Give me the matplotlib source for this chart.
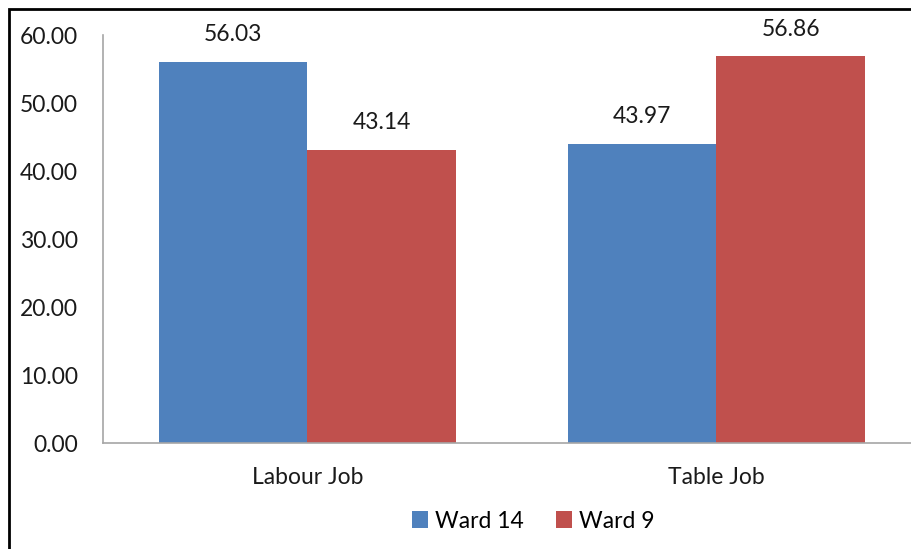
import numpy as np
import matplotlib.pyplot as plt
from matplotlib.patches import Rectangle

plt.rcParams['font.family'] = ['Lato', 'DejaVu Sans']

categories = ["Labour Job", "Table Job"]
series_names = ["Ward 14", "Ward 9"]
ward14 = [56.03, 43.97]
ward9 = [43.14, 56.86]
y_ticks = [0, 10, 20, 30, 40, 50, 60]

BLUE = "#4F81BD"
RED = "#C0504D"
GRID = "#A6A6A6"
TEXT = "#1a1a1a"
FS = 16.5

fig = plt.figure(figsize=(9.12, 5.49), dpi=100)
ax = fig.add_axes([103 / 912, 1 - 443 / 549, 818 / 912, 408 / 549])

x = np.arange(len(categories))
width = 0.364
b1 = ax.bar(x - width / 2, ward14, width, color=BLUE, label=series_names[0])
b2 = ax.bar(x + width / 2, ward9, width, color=RED, label=series_names[1])

for bars in (b1, b2):
    for rect in bars:
        h = rect.get_height()
        ax.annotate(f"{h:.2f}", (rect.get_x() + rect.get_width() / 2, h),
                    xytext=(0, 12), textcoords="offset points",
                    ha="center", va="bottom", fontsize=FS, color=TEXT)

ax.set_xlim(-0.5, 1.5)
ax.set_ylim(0, 60)
ax.set_yticks(y_ticks)
ax.set_yticklabels([f"{v:.2f}" for v in y_ticks])
ax.set_xticks(x)
ax.set_xticklabels(categories)
ax.tick_params(axis="both", length=0, labelsize=FS, colors=TEXT)
ax.tick_params(axis="y", pad=18)
ax.tick_params(axis="x", pad=17)

for side in ("top", "right"):
    ax.spines[side].set_visible(False)
for side in ("left", "bottom"):
    ax.spines[side].set_color(GRID)
    ax.spines[side].set_linewidth(1.2)

fig.legend(handles=[b1, b2], loc="center", bbox_to_anchor=(533 / 912, 1 - 521 / 549),
           ncol=2, frameon=False, fontsize=FS, handlelength=0.7, handleheight=0.7,
           handletextpad=0.3, columnspacing=1.4)

# outer frame around the chart area
fig.patches.append(Rectangle((9 / 912, -0.1), 1.2, 1 - 9 / 549 + 0.1,
                             transform=fig.transFigure, fill=False,
                             edgecolor="black", linewidth=2))

fig.savefig("out.png", dpi=100)
